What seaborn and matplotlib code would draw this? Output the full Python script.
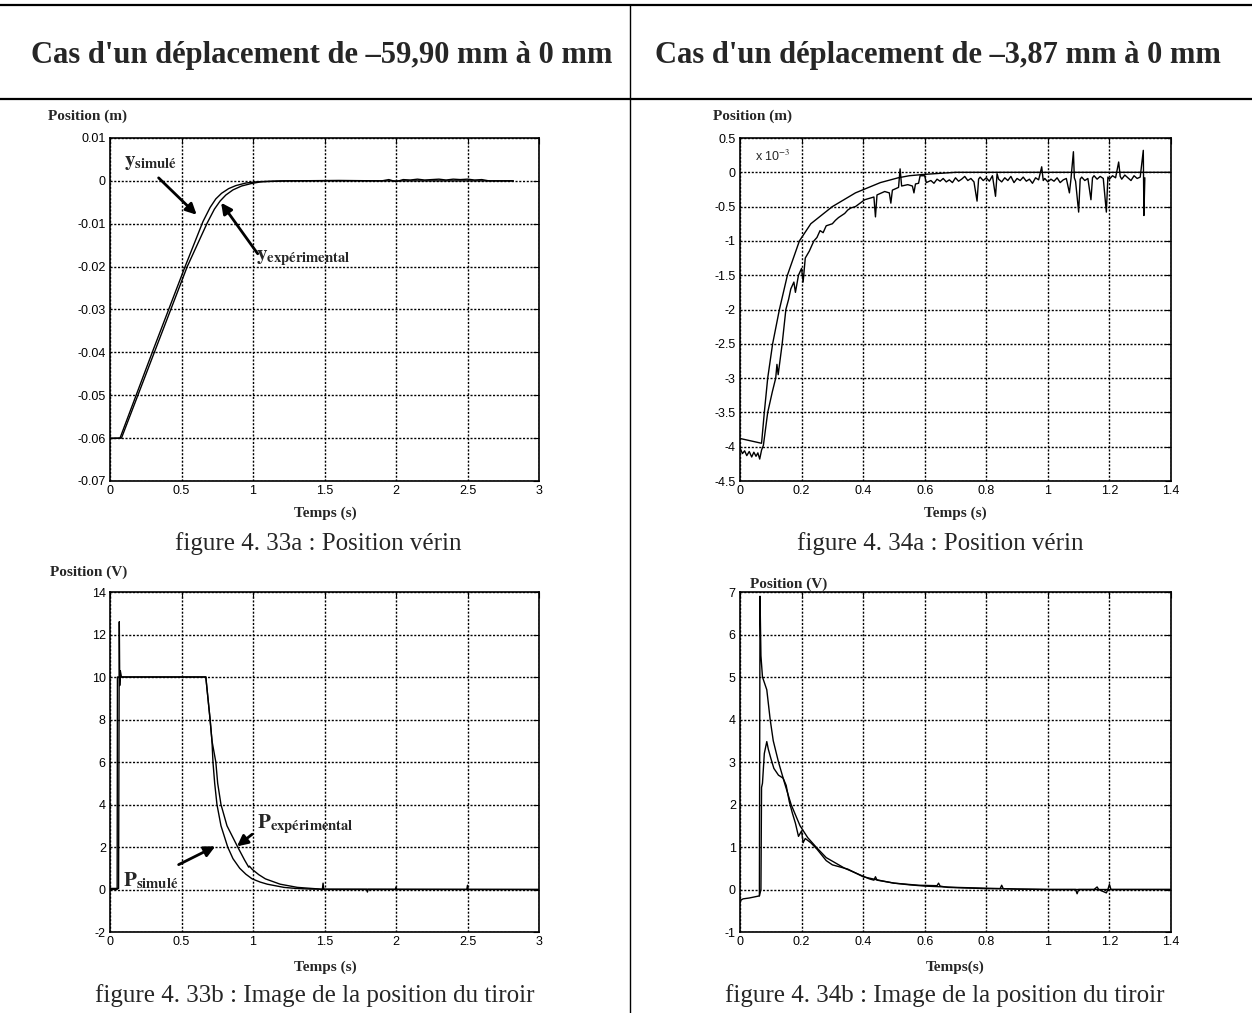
import matplotlib
matplotlib.use("Agg")
import matplotlib.pyplot as plt
from matplotlib.lines import Line2D
from matplotlib.ticker import FormatStrFormatter
import seaborn as sns

# ── Data ──────────────────────────────────────────────────────────────────────
# fig 4.33a : cylinder position, -59.90 mm -> 0 mm  (m)
t_sim_33a = [0.00, 0.07, 0.30, 0.525, 0.65, 0.70, 0.74, 0.78, 0.83, 0.88, 0.95, 1.03, 1.20, 2.82]
y_sim_33a = [-0.0600, -0.0600, -0.0396, -0.0200, -0.0095, -0.0062, -0.0042, -0.0029,
             -0.0018, -0.0011, -0.0005, -0.0002, 0.0000, 0.0000]
t_exp_33a = [0.00, 0.08, 0.31, 0.54, 0.68, 0.73, 0.77, 0.81, 0.86, 0.92, 0.99, 1.06, 1.25,
             1.60, 1.90, 1.95, 2.00, 2.05, 2.10, 2.15, 2.20, 2.25, 2.30, 2.35, 2.40, 2.45,
             2.50, 2.55, 2.60, 2.65, 2.82]
y_exp_33a = [-0.0601, -0.0600, -0.0400, -0.0200, -0.0098, -0.0066, -0.0047, -0.0033,
             -0.0021, -0.0012, -0.0006, -0.0002, 0.0000, 0.0001, 0.0000, 0.0003, -0.0002,
             0.0003, 0.0002, 0.0004, 0.0002, 0.0003, 0.0004, 0.0002, 0.0004, 0.0003,
             0.0004, 0.0002, 0.0003, 0.0000, 0.0000]

# fig 4.34a : cylinder position, -3.87 mm -> 0 mm  (x 1e-3 m)
t_sim_34a = [0.00, 0.07, 0.079, 0.09, 0.106, 0.128, 0.154, 0.193, 0.23, 0.30, 0.375, 0.456,
             0.514, 0.55, 0.60, 0.70, 1.40]
y_sim_34a = [-3.88, -3.95, -3.50, -3.00, -2.50, -2.00, -1.50, -1.00, -0.75, -0.50, -0.30,
             -0.15, -0.08, -0.05, -0.03, 0.00, 0.00]
t_exp_34a = [0.000, 0.008, 0.015, 0.022, 0.030, 0.038, 0.045, 0.052, 0.058, 0.064, 0.070,
             0.076, 0.090, 0.105, 0.116, 0.120, 0.124, 0.137, 0.149, 0.158, 0.165, 0.175,
             0.180, 0.190, 0.200, 0.205, 0.212, 0.225, 0.240, 0.250, 0.260, 0.270, 0.280,
             0.300, 0.310, 0.320, 0.340, 0.350, 0.360, 0.375, 0.390, 0.405, 0.420, 0.435,
             0.440, 0.445, 0.460, 0.470, 0.485, 0.490, 0.495, 0.505, 0.515, 0.520, 0.525,
             0.545, 0.560, 0.565, 0.570, 0.580, 0.585, 0.600, 0.605, 0.620, 0.630, 0.640,
             0.650, 0.660, 0.670, 0.680, 0.690, 0.700, 0.710, 0.720, 0.730, 0.740, 0.750,
             0.760, 0.770, 0.775, 0.780, 0.790, 0.800, 0.810, 0.820, 0.830, 0.835, 0.840,
             0.850, 0.860, 0.870, 0.880, 0.890, 0.900, 0.910, 0.920, 0.930, 0.940, 0.950,
             0.960, 0.970, 0.980, 0.985, 0.990, 1.000, 1.010, 1.020, 1.030, 1.040, 1.050,
             1.060, 1.070, 1.075, 1.083, 1.086, 1.090, 1.100, 1.105, 1.110, 1.120, 1.130,
             1.140, 1.145, 1.150, 1.160, 1.170, 1.180, 1.190, 1.195, 1.200, 1.210, 1.220,
             1.230, 1.235, 1.240, 1.250, 1.260, 1.270, 1.280, 1.290, 1.300, 1.310, 1.312,
             1.315]
y_exp_34a = [-4.02, -4.10, -4.06, -4.13, -4.07, -4.15, -4.08, -4.14, -4.09, -4.18, -4.05,
             -3.98, -3.50, -3.20, -3.00, -2.80, -2.95, -2.50, -2.00, -1.85, -1.70, -1.60,
             -1.75, -1.50, -1.40, -1.60, -1.25, -1.15, -1.00, -0.95, -0.85, -0.88, -0.78,
             -0.75, -0.70, -0.66, -0.60, -0.55, -0.52, -0.50, -0.45, -0.40, -0.38, -0.36,
             -0.65, -0.33, -0.30, -0.28, -0.30, -0.45, -0.26, -0.24, -0.22, 0.05, -0.20,
             -0.18, -0.20, -0.30, -0.17, -0.16, -0.05, -0.05, -0.15, -0.12, -0.16, -0.10,
             -0.13, -0.09, -0.14, -0.11, -0.15, -0.08, -0.13, -0.10, -0.06, -0.12, -0.09,
             -0.14, -0.42, -0.10, -0.07, -0.12, -0.08, -0.13, -0.05, -0.35, -0.02, -0.10,
             -0.14, -0.08, -0.12, -0.06, -0.15, -0.09, -0.12, -0.07, -0.13, -0.10, -0.16,
             -0.08, -0.11, 0.08, -0.12, -0.09, -0.14, -0.10, -0.13, -0.08, -0.15, -0.11,
             -0.09, -0.30, -0.10, 0.30, -0.08, -0.13, -0.58, -0.10, -0.07, -0.12, -0.09,
             -0.40, -0.08, -0.05, -0.10, -0.06, -0.09, -0.58, -0.07, -0.10, -0.05, -0.08,
             0.15, -0.06, -0.10, -0.04, -0.08, -0.12, -0.05, -0.09, -0.07, 0.32, -0.63,
             -0.08]

# fig 4.33b : spool position image (V)
t_sim_33b = [0.000, 0.050, 0.052, 0.670, 0.700, 0.713, 0.720, 0.732, 0.748, 0.776, 0.823,
             0.860, 0.907, 0.950, 0.994, 1.050, 1.100, 1.216, 1.300, 1.400, 3.000]
y_sim_33b = [0.0, 0.0, 10.0, 10.0, 8.0, 7.0, 6.0, 5.0, 4.0, 3.0, 2.0, 1.45, 1.0, 0.72,
             0.5, 0.35, 0.25, 0.10, 0.05, 0.02, 0.0]
t_exp_33b = [0.000, 0.060, 0.065, 0.068, 0.072, 0.080, 0.670, 0.700, 0.713, 0.740, 0.753,
             0.776, 0.818, 0.893, 0.940, 0.970, 0.975, 0.994, 1.040, 1.087, 1.190, 1.310,
             1.450, 1.485, 1.490, 1.495, 1.795, 1.800, 1.805, 1.995, 2.000, 2.005, 2.495,
             2.500, 2.505, 3.000]
y_exp_33b = [0.05, 0.05, 12.6, 9.6, 10.3, 10.0, 10.0, 8.0, 7.0, 6.0, 5.0, 4.0, 3.0, 2.0,
             1.4, 1.05, 1.1, 0.95, 0.7, 0.5, 0.25, 0.1, 0.03, 0.0, 0.3, 0.0, 0.0, -0.12,
             0.0, 0.0, 0.12, 0.0, 0.0, 0.2, 0.0, 0.0]

# fig 4.34b : spool position image (V)
t_exp_34b = [0.000, 0.003, 0.010, 0.030, 0.050, 0.063, 0.065, 0.068, 0.073, 0.080, 0.087,
             0.098, 0.108, 0.125, 0.145, 0.166, 0.195, 0.220, 0.247, 0.280, 0.340, 0.420,
             0.435, 0.440, 0.445, 0.500, 0.580, 0.640, 0.645, 0.650, 0.675, 0.800, 0.845,
             0.850, 0.855, 0.900, 1.000, 1.090, 1.095, 1.100, 1.150, 1.160, 1.165, 1.190,
             1.195, 1.200, 1.205, 1.400]
y_exp_34b = [-0.32, -0.25, -0.22, -0.20, -0.17, -0.15, 6.90, 5.50, 5.00, 4.85, 4.70, 4.00,
             3.50, 3.00, 2.50, 2.00, 1.50, 1.22, 1.00, 0.75, 0.50, 0.25, 0.22, 0.30, 0.22,
             0.15, 0.10, 0.09, 0.15, 0.08, 0.05, 0.02, 0.02, 0.10, 0.02, 0.01, 0.00, 0.00,
             -0.10, 0.00, 0.00, 0.06, 0.00, -0.08, 0.00, 0.12, 0.00, 0.00]
t_sim_34b = [0.063, 0.068, 0.070, 0.073, 0.079, 0.087, 0.092, 0.100, 0.110, 0.125, 0.140,
             0.150, 0.160, 0.170, 0.180, 0.190, 0.200, 0.205, 0.212, 0.230, 0.250, 0.280,
             0.300, 0.350, 0.400, 0.450, 0.500, 0.550, 0.600, 0.700, 0.800, 0.900, 1.000,
             1.400]
y_sim_34b = [-0.15, 0.00, 2.40, 2.50, 3.20, 3.48, 3.30, 3.09, 2.85, 2.69, 2.62, 2.45, 2.07,
             1.80, 1.56, 1.25, 1.38, 1.10, 1.20, 1.10, 0.95, 0.68, 0.58, 0.48, 0.30, 0.22,
             0.15, 0.11, 0.08, 0.05, 0.03, 0.01, 0.00, 0.00]

# ── Style ─────────────────────────────────────────────────────────────────────
sns.set_theme(style="white")
plt.rcParams["font.family"] = ["Liberation Sans", "DejaVu Sans"]
plt.rcParams["mathtext.fontset"] = "stix"
plt.rcParams["axes.unicode_minus"] = False
SERIF = ["Liberation Serif", "DejaVu Serif"]
W, H = 1252, 1013

fig = plt.figure(figsize=(W / 100, H / 100), dpi=100, facecolor="white")


def px_axes(x0, x1, y0, y1):
    return fig.add_axes([x0 / W, 1 - y1 / H, (x1 - x0) / W, (y1 - y0) / H])


def style_ax(ax, xlim, xticks, ylim, yticks):
    ax.set_xlim(xlim)
    ax.set_ylim(ylim)
    ax.set_xticks(xticks)
    ax.set_yticks(yticks)
    ax.xaxis.set_major_formatter(FormatStrFormatter("%g"))
    ax.yaxis.set_major_formatter(FormatStrFormatter("%g"))
    ax.grid(True, color="black", linestyle=(0, (1.5, 1.2)), linewidth=1.0)
    ax.tick_params(direction="in", length=4, width=0.8, labelsize=9, colors="black",
                   top=True, right=True, pad=3)
    for s in ax.spines.values():
        s.set_color("black")
        s.set_linewidth(1.2)
    ax.set_xlabel("")
    ax.set_ylabel("")


def draw(ax, t, y):
    sns.lineplot(x=t, y=y, ax=ax, color="black", linewidth=1.0,
                 estimator=None, sort=False)


ax1 = px_axes(110, 539, 138, 481)
ax2 = px_axes(740, 1171, 138, 481)
ax3 = px_axes(110, 539, 592, 932)
ax4 = px_axes(740, 1171, 592, 932)

draw(ax1, t_sim_33a, y_sim_33a)
draw(ax1, t_exp_33a, y_exp_33a)
style_ax(ax1, (0, 3), [0, 0.5, 1, 1.5, 2, 2.5, 3], (-0.07, 0.01),
         [-0.07, -0.06, -0.05, -0.04, -0.03, -0.02, -0.01, 0, 0.01])

draw(ax2, t_sim_34a, y_sim_34a)
draw(ax2, t_exp_34a, y_exp_34a)
style_ax(ax2, (0, 1.4), [0, 0.2, 0.4, 0.6, 0.8, 1, 1.2, 1.4], (-4.5, 0.5),
         [-4.5, -4, -3.5, -3, -2.5, -2, -1.5, -1, -0.5, 0, 0.5])
ax2.text(0.035, 0.945, r"x 10$^{-3}$", transform=ax2.transAxes, fontsize=9,
         va="center", ha="left")

draw(ax3, t_sim_33b, y_sim_33b)
draw(ax3, t_exp_33b, y_exp_33b)
style_ax(ax3, (0, 3), [0, 0.5, 1, 1.5, 2, 2.5, 3], (-2, 14), list(range(-2, 15, 2)))

draw(ax4, t_exp_34b, y_exp_34b)
draw(ax4, t_sim_34b, y_sim_34b)
style_ax(ax4, (0, 1.4), [0, 0.2, 0.4, 0.6, 0.8, 1, 1.2, 1.4], (-1, 7), list(range(-1, 8)))

# ── Axis labels (bold serif, MATLAB-ish placement) ───────────────────────────
lab = dict(family=SERIF, fontsize=11, fontweight="bold")
fig.text(48 / W, 1 - 116 / H, "Position (m)", ha="left", va="center", **lab)
fig.text(713 / W, 1 - 116 / H, "Position (m)", ha="left", va="center", **lab)
fig.text(50 / W, 1 - 572 / H, "Position (V)", ha="left", va="center", **lab)
fig.text(750 / W, 1 - 584 / H, "Position (V)", ha="left", va="center", **lab)
fig.text(325 / W, 1 - 513 / H, "Temps (s)", ha="center", va="center", **lab)
fig.text(955 / W, 1 - 513 / H, "Temps (s)", ha="center", va="center", **lab)
fig.text(325 / W, 1 - 967 / H, "Temps (s)", ha="center", va="center", **lab)
fig.text(955 / W, 1 - 967 / H, "Temps(s)", ha="center", va="center", **lab)

# ── Annotations with arrows ──────────────────────────────────────────────────
arw = dict(arrowstyle="-|>", color="black", lw=2.0, mutation_scale=16,
           shrinkA=0, shrinkB=0)
ax1.text(0.10, 0.0042, r"$\mathbf{y}_{\mathbf{simulé}}$", fontsize=15, va="center")
ax1.annotate("", xy=(0.606, -0.0079), xytext=(0.34, 0.0007), arrowprops=arw)
ax1.text(1.02, -0.0181, r"$\mathbf{y}_{\mathbf{expérimental}}$", fontsize=15, va="center")
ax1.annotate("", xy=(0.777, -0.0051), xytext=(1.033, -0.0170), arrowprops=arw)

ax3.text(1.03, 3.1, r"$\mathbf{P}_{\mathbf{expérimental}}$", fontsize=15, va="center")
ax3.annotate("", xy=(0.888, 2.03), xytext=(0.994, 2.6), arrowprops=arw)
ax3.text(0.09, 0.4, r"$\mathbf{P}_{\mathbf{simulé}}$", fontsize=15, va="center")
ax3.annotate("", xy=(0.736, 2.03), xytext=(0.48, 1.17), arrowprops=arw)

# ── Table frame, headers and captions ────────────────────────────────────────
for yy in (5, 99):
    fig.add_artist(Line2D([0, 1], [1 - yy / H, 1 - yy / H], transform=fig.transFigure,
                          color="black", lw=1.6))
fig.add_artist(Line2D([630 / W, 630 / W], [0, 1 - 5 / H], transform=fig.transFigure,
                      color="black", lw=1.0))

head = dict(family=SERIF, fontsize=22, fontweight="bold", ha="center", va="center")
fig.text(322 / W, 1 - 55 / H, "Cas d'un déplacement de –59,90 mm à 0 mm", **head)
fig.text(938 / W, 1 - 55 / H, "Cas d'un déplacement de –3,87 mm à 0 mm", **head)

cap = dict(family=SERIF, fontsize=18, ha="center", va="center")
fig.text(318 / W, 1 - 544 / H, "figure 4. 33a : Position vérin", **cap)
fig.text(940 / W, 1 - 544 / H, "figure 4. 34a : Position vérin", **cap)
fig.text(315 / W, 1 - 996 / H, "figure 4. 33b : Image de la position du tiroir", **cap)
fig.text(945 / W, 1 - 996 / H, "figure 4. 34b : Image de la position du tiroir", **cap)

fig.savefig("out.png", dpi=100, facecolor="white")
